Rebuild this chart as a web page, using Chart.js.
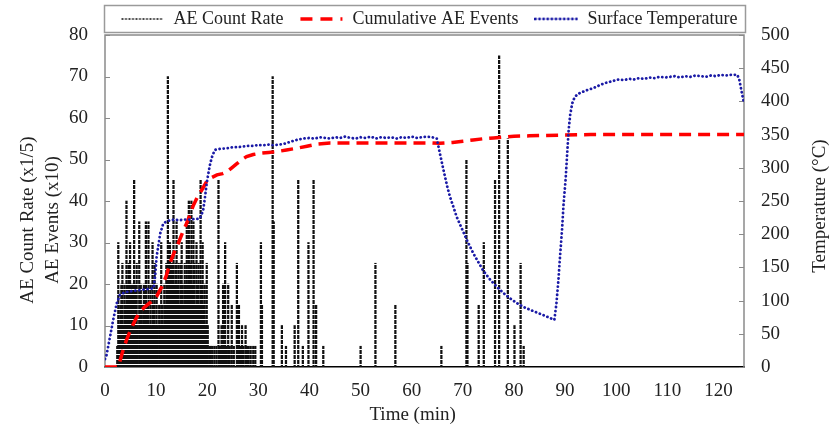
<!DOCTYPE html>
<html><head><meta charset="utf-8">
<script src="https://cdn.jsdelivr.net/npm/chart.js@4/dist/chart.umd.min.js"></script>
<style>html,body{margin:0;padding:0;background:#fff;}canvas{display:block;}</style>
</head><body>
<canvas id="c" width="838" height="429"></canvas>
<script>
// ---------- DATA ----------
const xTickMax = 125;
const leftTicks = [0,10,20,30,40,50,60,70,80];
const rightTicks = [0,50,100,150,200,250,300,350,400,450,500];

const seriesNames = ['AE Count Rate', 'Cumulative AE Events', 'Surface Temperature'];

const aeTime = [2.4,2.6,2.8,3.0,3.2,3.4,3.6,3.8,4.0,4.2,
 4.4,4.6,4.9,5.1,5.3,5.5,5.7,5.9,6.0,6.2,
 6.4,6.7,6.9,7.0,7.2,7.4,7.6,7.8,8.0,8.2,
 8.5,8.7,8.9,9.1,9.3,9.5,9.7,9.9,10.1,10.3,
 10.6,10.8,11.0,11.2,11.4,11.6,11.8,12.0,12.3,12.5,
 12.7,12.9,13.1,13.4,13.6,13.8,14.0,14.2,14.4,14.6,
 14.8,15.0,15.2,15.4,15.6,15.8,16.0,16.2,16.4,16.6,
 16.9,17.1,17.3,17.5,17.7,17.9,18.1,18.3,18.5,18.7,
 18.9,19.1,19.3,19.5,19.7,19.9,20.1,20.4,20.7,21.0,
 21.4,21.8,22.2,22.5,22.8,23.1,23.5,23.8,24.1,24.4,
 24.8,25.2,25.8,26.2,26.5,26.8,27.1,27.5,27.8,28.1,
 28.5,29.0,29.4,30.5,30.7,32.8,33.0,34.6,35.4,37.1,
 37.8,38.7,39.8,40.8,41.3,42.7,50.0,52.9,56.8,65.8,
 70.7,70.9,73.1,74.1,76.3,77.1,78.8,80.1,81.3,81.9];
const aeRate = [5,30,10,15,20,25,10,20,15,40,
 20,25,30,15,20,10,45,15,20,25,
 10,35,15,20,15,10,20,10,35,15,
 35,10,20,10,30,15,25,10,20,10,
 15,10,30,15,10,20,15,25,70,20,
 30,15,25,45,20,25,35,20,25,15,
 25,30,20,15,25,20,35,20,40,25,
 40,20,35,25,15,30,20,25,15,45,
 20,30,15,20,10,25,10,5,5,5,
 5,5,45,5,10,20,30,5,20,5,
 15,5,25,15,5,10,5,10,5,5,
 5,5,5,30,15,70,35,10,5,10,
 45,5,30,45,15,5,5,25,15,5,
 50,25,15,30,45,75,55,10,25,5];

const cumTime = [0,2.6,3.4,4.2,5.2,6.2,7,7.8,9,10.1,
 11.1,12,12.7,13.5,14.4,15.2,16,16.7,17.3,18.1,
 18.9,19.9,20.8,21.9,23,23.8,24.8,25.8,26.8,27.7,
 29,30.3,32,33.6,35.5,37.5,39.5,41.4,44,48,
 52,56,60,64,65.5,68,70,72,74,76,
 78,80,83,86,90,95,100,110,120,125];
const cumEvents = [0,0,3.5,6.5,9.5,12,13.5,14.5,15.7,17,
 19.3,22,25,27.5,30,32.5,34.7,37,39,41,
 42.6,44.7,45.6,46.3,46.6,47,48,49,50,50.7,
 51.2,51.5,51.7,51.9,52.3,52.7,53.2,53.7,54,54,
 54,54,54,54,53.9,54.1,54.4,54.7,55,55.2,
 55.4,55.6,55.7,55.8,55.9,56,56,56,56,56];

const tempTime = [0,0.3,1,1.6,2.3,2.9,3.5,4.2,5,6,
 6.9,8,9,9.5,9.8,10.1,10.5,10.8,11.4,12,
 12.7,13.5,14.5,15.5,16.5,17.5,18.2,18.6,19.2,19.6,
 19.9,20.3,20.6,21,21.5,22.2,22.8,23.5,24.3,25,
 26,27,28,29,29.7,31,32,33,34,35,
 36.2,37,38,38.8,40,41,42,43,44,45,
 46,47,48,49,50,51,52,53,54,55,
 56,57,58,59,60,61,62,63,64,64.9,
 65.5,66.2,67,67.5,68.2,68.8,70,70.8,72,72.8,
 74,75.4,76.5,78,79.3,80.6,82,83.2,84.5,85.8,
 87,87.9,88.3,88.7,89,89.4,89.7,90.1,90.4,90.7,
 91,91.4,91.8,92.3,93,94.3,95.5,96.9,98,99.5,
 100.5,101.5,102.5,103.5,104.5,105.5,106.5,107.5,108.5,109.5,
 110.5,111.5,112.5,113.5,114.5,115.5,116.5,117.5,118.5,119.5,
 120.5,121.5,122.5,123.7,124.1,124.6,125];
const tempValues = [12,18,46,71,96,108,111,113,114,115,
 116,117,118,119,136,166,186,201,216,219,
 221,222,221,222,222,223,223,224,236,258,
 277,295,307,318,327,328,329,329,330,331,
 331,332,333,333,334,334,335,334,335,336,
 339,341,343,344,345,344,346,345,344,346,
 345,347,345,344,346,345,347,344,346,345,
 346,344,346,345,347,345,346,347,346,344,
 322,297,270,256,240,226,205,191,172,161,
 145,131,122,111,103,96,90,86,82,78,
 74,71,95,131,165,206,245,282,320,357,
 380,397,405,410,413,417,420,425,428,431,
 433,432,434,433,435,434,436,435,437,436,
 437,438,436,438,437,439,438,437,439,438,
 440,439,440,440,432,412,397];

// ---------- helpers ----------
function toXY(xs, ys){ return xs.map((x,i)=>({x:x, y:ys[i]})); }
function sampleLine(color, dash, width, cap){
  const c=document.createElement('canvas'); c.width=44; c.height=12;
  const g=c.getContext('2d'); g.strokeStyle=color; g.lineWidth=width; g.setLineDash(dash); g.lineCap=cap||'butt';
  g.beginPath(); g.moveTo(1,6); g.lineTo(43,6); g.stroke(); return c;
}
function barPattern(){
  const p=document.createElement('canvas'); p.width=2; p.height=5;
  const g=p.getContext('2d'); g.fillStyle='#111'; g.fillRect(0,0,2,4);
  return document.createElement('canvas').getContext('2d').createPattern(p,'repeat');
}
const FONT='"Liberation Serif", "Times New Roman", serif';
const TXT='#222';
const TEMP_COLOR='#1a1aa6';
const sAE = sampleLine('#111',[2,1.5],1.3);
const sCum = sampleLine('#ff0000',[12,8],3.5);
const sTemp = sampleLine(TEMP_COLOR,[0.1,4],2.8,'round');

const decorPlugin = {
  id:'decor',
  beforeDatasetsDraw(chart){
    const {ctx, chartArea:a, scales} = chart;
    ctx.save();
    ctx.strokeStyle='#8a8a8a'; ctx.lineWidth=1.5;
    ctx.beginPath();
    ctx.moveTo(a.left, a.bottom); ctx.lineTo(a.left, a.top); ctx.lineTo(a.right, a.top); ctx.lineTo(a.right, a.bottom);
    ctx.stroke();
    ctx.lineWidth=1.2; ctx.beginPath();
    scales.y.ticks.forEach(t=>{ const y=Math.round(scales.y.getPixelForValue(t.value))+0.5; ctx.moveTo(a.left,y); ctx.lineTo(a.left+5,y); });
    scales.y2.ticks.forEach(t=>{ const y=Math.round(scales.y2.getPixelForValue(t.value))+0.5; ctx.moveTo(a.right,y); ctx.lineTo(a.right-5,y); });
    ctx.stroke();
    ctx.restore();
  },
  afterDraw(chart){
    const {ctx, chartArea:a} = chart;
    ctx.save();
    ctx.strokeStyle='#9a9a9a'; ctx.lineWidth=1.5;
    ctx.strokeRect(a.left-0.5, 5.5, a.right-a.left+2, a.top-8);
    ctx.fillStyle=TXT; ctx.font='19px '+FONT; ctx.textAlign='center'; ctx.textBaseline='middle';
    ctx.translate(820, 206); ctx.rotate(-Math.PI/2);
    ctx.fillText('Temperature (\u00B0C)', 0, 0);
    ctx.restore();
  }
};
const legendPatchPlugin = {
  id:'legendPatch',
  beforeUpdate(chart){
    const lg = chart.legend;
    if (lg && !lg._patched){
      const origFit = lg.fit;
      lg.fit = function(){ origFit.call(this); this.height = 41; };
      const origDraw = lg.draw;
      lg.draw = function(){ const c=this.ctx; c.save(); c.translate(10,0); origDraw.call(this); c.restore(); };
      lg._patched = true;
    }
  }
};

new Chart(document.getElementById('c'), {
  type:'line',
  data:{
    datasets:[
      { type:'line', label:seriesNames[2], data:toXY(tempTime,tempValues), yAxisID:'y2',
        borderColor:TEMP_COLOR, borderWidth:2.8, borderDash:[0.1,4], borderCapStyle:'round',
        pointRadius:0, tension:0, fill:false, order:0 },
      { type:'line', label:seriesNames[1], data:toXY(cumTime,cumEvents), yAxisID:'y',
        borderColor:'#ff0000', borderWidth:3.5, borderDash:[12,7],
        pointRadius:0, tension:0, fill:false, order:1 },
      { type:'bar', label:seriesNames[0], data:toXY(aeTime,aeRate), yAxisID:'y',
        backgroundColor:barPattern(), borderWidth:0, barThickness:1.6, order:2 }
    ]
  },
  options:{
    responsive:false, animation:false,
    layout:{padding:{top:-6,left:0,right:0,bottom:0}},
    plugins:{
      tooltip:{enabled:false},
      legend:{
        display:true, position:'top',
        labels:{
          usePointStyle:true, pointStyleWidth:44, boxHeight:12, padding:16,
          color:TXT, font:{family:FONT, size:18},
          generateLabels:()=>[
            {text:seriesNames[0], pointStyle:sAE, fillStyle:'#000', strokeStyle:'#000', lineWidth:0, hidden:false, fontColor:TXT},
            {text:seriesNames[1], pointStyle:sCum, fillStyle:'#f00', strokeStyle:'#f00', lineWidth:0, hidden:false, fontColor:TXT},
            {text:seriesNames[2], pointStyle:sTemp, fillStyle:TEMP_COLOR, strokeStyle:TEMP_COLOR, lineWidth:0, hidden:false, fontColor:TXT}
          ]
        }
      }
    },
    scales:{
      x:{ type:'linear', min:0, max:xTickMax, offset:false,
        grid:{display:false, drawTicks:false},
        border:{display:true, color:'#000', width:1.5, dash:[3,2]},
        ticks:{stepSize:10, includeBounds:false, padding:13, color:TXT, font:{family:FONT, size:19}, maxRotation:0},
        title:{display:true, text:'Time (min)\u00a0\u00a0\u00a0\u00a0\u00a0', color:TXT, font:{family:FONT, size:19}, padding:{top:0,bottom:3}},
        afterFit:s=>{ s.height=62; }
      },
      y:{ type:'linear', position:'left', min:0, max:80,
        grid:{display:false, drawTicks:false}, border:{display:false},
        ticks:{stepSize:10, padding:17, color:TXT, font:{family:FONT, size:19}},
        afterBuildTicks:s=>{ s.ticks = leftTicks.map(v=>({value:v})); },
        title:{display:true, text:['AE Count Rate (x1/5)\u00a0\u00a0\u00a0\u00a0\u00a0\u00a0\u00a0\u00a0','AE Events (x10)\u00a0\u00a0\u00a0\u00a0\u00a0\u00a0\u00a0\u00a0'],
          color:TXT, font:{family:FONT, size:19, lineHeight:1.3}, padding:{top:15.6,bottom:0}},
        afterFit:s=>{ s.width=105; }
      },
      y2:{ type:'linear', position:'right', min:0, max:500,
        grid:{display:false, drawTicks:false}, border:{display:false},
        ticks:{stepSize:50, padding:17, color:TXT, font:{family:FONT, size:19}},
        afterBuildTicks:s=>{ s.ticks = rightTicks.map(v=>({value:v})); },
        title:{display:false},
        afterFit:s=>{ s.width=94; }
      }
    }
  },
  plugins:[legendPatchPlugin, decorPlugin]
});
</script>
</body></html>
